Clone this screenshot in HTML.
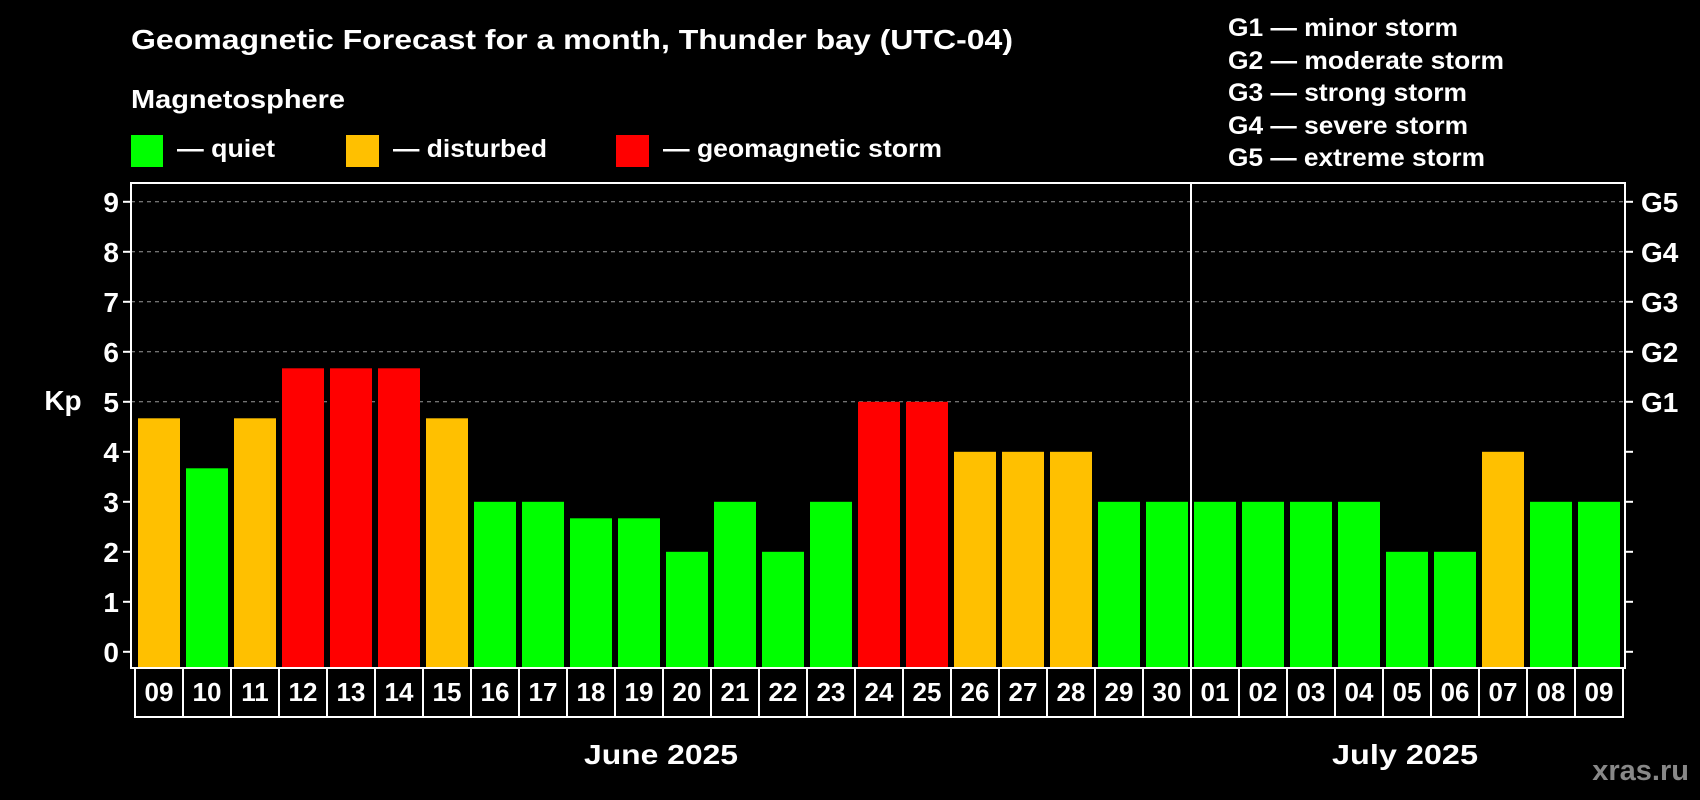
<!DOCTYPE html>
<html><head><meta charset="utf-8">
<style>
html,body{margin:0;padding:0;background:#000;}
svg{display:block;font-family:"Liberation Sans",Arial,sans-serif;font-weight:bold;}
</style></head>
<body>
<svg id="chart" width="1700" height="800" viewBox="0 0 1700 800">
<text x="131" y="49" fill="#fff" font-size="28" textLength="882" lengthAdjust="spacingAndGlyphs">Geomagnetic Forecast for a month, Thunder bay (UTC-04)</text>
<text x="131" y="108" fill="#fff" font-size="26" textLength="214" lengthAdjust="spacingAndGlyphs">Magnetosphere</text>
<rect x="131" y="135" width="32" height="32" fill="#00ff00"/>
<text x="177" y="157" fill="#fff" font-size="25" textLength="98" lengthAdjust="spacingAndGlyphs">— quiet</text>
<rect x="346" y="135" width="33" height="32" fill="#ffc000"/>
<text x="393" y="157" fill="#fff" font-size="25" textLength="154" lengthAdjust="spacingAndGlyphs">— disturbed</text>
<rect x="616" y="135" width="33" height="32" fill="#ff0000"/>
<text x="663" y="157" fill="#fff" font-size="25" textLength="279" lengthAdjust="spacingAndGlyphs">— geomagnetic storm</text>
<g font-size="25" fill="#fff">
<text x="1228" y="36" textLength="230" lengthAdjust="spacingAndGlyphs">G1 — minor storm</text>
<text x="1228" y="69" textLength="276" lengthAdjust="spacingAndGlyphs">G2 — moderate storm</text>
<text x="1228" y="101" textLength="239" lengthAdjust="spacingAndGlyphs">G3 — strong storm</text>
<text x="1228" y="134" textLength="240" lengthAdjust="spacingAndGlyphs">G4 — severe storm</text>
<text x="1228" y="166" textLength="257" lengthAdjust="spacingAndGlyphs">G5 — extreme storm</text>
</g>
<text x="63" y="410" fill="#fff" font-size="28" text-anchor="middle">Kp</text>
<g id="grid"></g>
<g id="bars"></g>
<g id="axes"></g>
<text x="661" y="764" fill="#fff" font-size="28" text-anchor="middle" textLength="154" lengthAdjust="spacingAndGlyphs">June 2025</text>
<text x="1405" y="764" fill="#fff" font-size="28" text-anchor="middle" textLength="146" lengthAdjust="spacingAndGlyphs">July 2025</text>
<text x="1689" y="780" fill="#888" font-size="29" text-anchor="end">xras.ru</text>
</svg>
<script>
const days = ["09","10","11","12","13","14","15","16","17","18","19","20","21","22","23","24","25","26","27","28","29","30","01","02","03","04","05","06","07","08","09"];
const kpValues = [4.67,3.67,4.67,5.67,5.67,5.67,4.67,3,3,2.67,2.67,2,3,2,3,5,5,4,4,4,3,3,3,3,3,3,2,2,4,3,3];
const yTicks = [0,1,2,3,4,5,6,7,8,9];
const gLabels = ["","","","","","G1","G2","G3","G4","G5"];
const NS="http://www.w3.org/2000/svg";
const plotL=131, plotR=1625, plotT=183, plotB=668, x0=135, slot=48;
const y = v => 651.8 - v*50;
const xs = i => x0 + i*slot;
function mk(tag, attrs, parent){const e=document.createElementNS(NS,tag);for(const k in attrs)e.setAttribute(k,attrs[k]);parent.appendChild(e);return e;}
const grid=document.getElementById('grid'), bars=document.getElementById('bars'), axes=document.getElementById('axes');
yTicks.forEach((t,i)=>{
  if(t>=5){const l=mk('line',{x1:plotL,x2:plotR,y1:y(t),y2:y(t),stroke:'#999','stroke-dasharray':'4 4','stroke-width':1},grid);
  
  }
  const tl=mk('line',{x1:plotL-8,x2:plotL,y1:y(t),y2:y(t),stroke:'#fff','stroke-width':2},axes);
  
  
  const tr=mk('line',{x1:plotR,x2:plotR+8,y1:y(t),y2:y(t),stroke:'#fff','stroke-width':2},axes);
  
  
  const lb=mk('text',{x:plotL-12,y:y(t)+10,fill:'#fff','font-size':28,'text-anchor':'end'},axes);
  lb.textContent=t;
  
  
  if(gLabels[i]){const g=mk('text',{x:plotR+16,y:y(t)+10,fill:'#fff','font-size':28},axes);
  g.textContent=gLabels[i];
  
  }
});
kpValues.forEach((v,i)=>{
  const c = v>=5 ? '#ff0000' : (v>=4 ? '#ffc000' : '#00ff00');
  const r=mk('rect',{x:xs(i)+3,y:y(v),width:42,height:plotB-y(v),fill:c},bars);
  
  
  const b=mk('rect',{x:xs(i),y:plotB,width:slot,height:49,fill:'none',stroke:'#fff','stroke-width':2},axes);
  
  
  const t=mk('text',{x:xs(i)+slot/2,y:701,fill:'#fff','font-size':26,'text-anchor':'middle'},axes);
  t.textContent=days[i];
  
  
});
const frame=mk('rect',{x:plotL,y:plotT,width:plotR-plotL,height:plotB-plotT,fill:'none',stroke:'#fff','stroke-width':2},axes);


const sep=mk('line',{x1:xs(22),x2:xs(22),y1:plotT,y2:717,stroke:'#fff','stroke-width':2},axes);


</script>
</body></html>
